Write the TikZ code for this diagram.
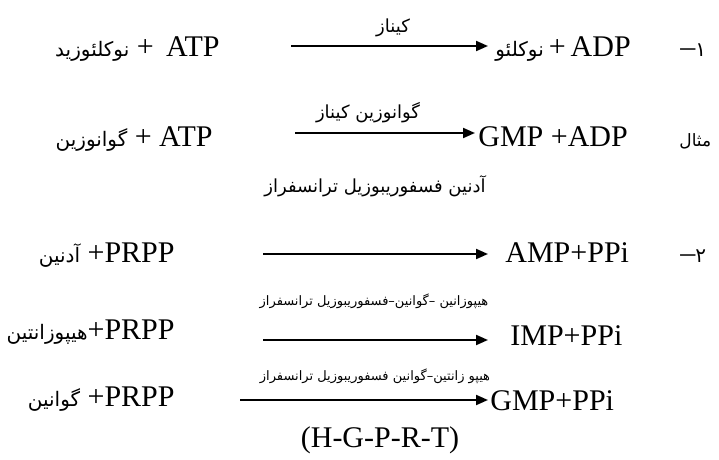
\documentclass[tikz,border=0pt]{standalone}
\usepackage{fontspec}
\setmainfont{Liberation Serif}
\newfontfamily\fa[Script=Arabic]{DejaVu Sans}
\TeXXeTstate=1
\usetikzlibrary{arrows.meta}
\newcommand{\fw}[1]{{\fa\fontsize{10}{12}\selectfont\beginR #1\endR}}
\newcommand{\rl}[1]{\beginR #1\endR}

\begin{document}
\begin{tikzpicture}[x=0.5pt,y=-0.5pt,
  every node/.style={inner sep=0pt},
  chem/.style={font=\fontsize{15}{18}\selectfont},
  enz/.style={font=\fa\fontsize{9}{11}\selectfont},
  enzs/.style={font=\fa\fontsize{6.5}{8}\selectfont},
  rxn/.style={line width=1pt,-{Triangle[length=6pt,width=5pt]}}
]
\useasboundingbox (0,0) rectangle (719,460);

% 1- kinase
\node[chem,anchor=base east] (sub1) at (220,57) {\fw{نوکلئوزید} +\, ATP};
\node[chem,anchor=base west] (prod1) at (495,57) {\fw{نوکلئو}\,+\,ADP};
\node[chem,anchor=base west] (num1) at (680,57) {–\fw{۱}};
\coordinate (s1) at (291,46);
\coordinate (e1) at (488,46);
\draw[rxn] (s1) -- (e1);
\node[enz] (enz1) at (393,28) {\rl{کیناز}};

% example
\node[chem,anchor=base east] (sub2) at (213,147) {\fw{گوانوزین} + ATP};
\node[chem,anchor=base west] (prod2) at (478,147) {GMP +ADP};
\node[anchor=base west,font=\fa\fontsize{8.5}{10}\selectfont] (ex) at (679,147) {\rl{مثال}};
\coordinate (s2) at (295,133);
\coordinate (e2) at (475,133);
\draw[rxn] (s2) -- (e2);
\node[enz] (enz2) at (368,113) {\rl{گوانوزین کیناز}};

% 2- PRPP
\node[enz] (enz3) at (375,186) {\rl{آدنین فسفوریبوزیل ترانسفراز}};
\node[chem,anchor=base east] (sub3) at (175,263) {\fw{آدنین} +PRPP};
\node[chem,anchor=base west] (prod3) at (505,263) {AMP+PPi};
\node[chem,anchor=base west] (num2) at (680,263) {–\fw{۲}};
\coordinate (s3) at (263,254);
\coordinate (e3) at (488,254);
\draw[rxn] (s3) -- (e3);

\node[enzs] (enz4) at (374,301) {\rl{هیپوزانین –گوانین–فسفوریبوزیل ترانسفراز}};
\node[chem,anchor=base east] (sub4) at (175,340) {\fw{هیپوزانتین}+PRPP};
\node[chem,anchor=base west] (prod4) at (510,346) {IMP+PPi};
\coordinate (s4) at (263,340);
\coordinate (e4) at (488,340);
\draw[rxn] (s4) -- (e4);

\node[enzs] (enz5) at (375,376) {\rl{هیپو زانتین–گوانین فسفوریبوزیل ترانسفراز}};
\node[chem,anchor=base east] (sub5) at (175,407) {\fw{گوانین} +PRPP};
\node[chem,anchor=base west] (prod5) at (490,410) {GMP+PPi};
\coordinate (s5) at (240,400);
\coordinate (e5) at (488,400);
\draw[rxn] (s5) -- (e5);
\node[chem] (hgprt) at (380,440) {(H-G-P-R-T)};
\end{tikzpicture}
\end{document}
